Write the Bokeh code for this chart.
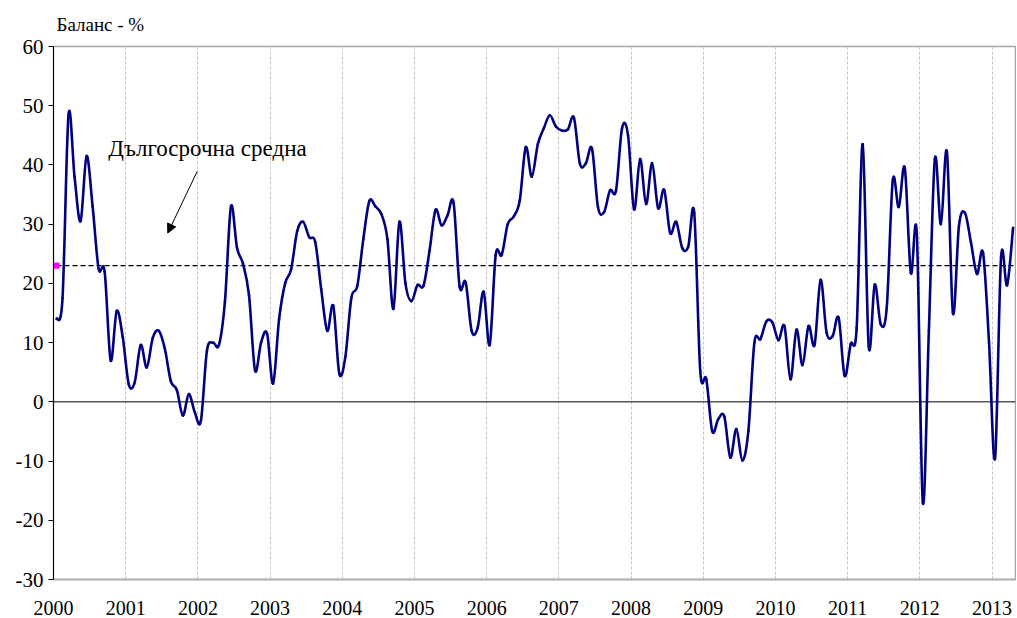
from bokeh.plotting import figure
from bokeh.models import Range1d, FixedTicker, Span, Label, Arrow, NormalHead, ColumnDataSource, Title
from bokeh.embed import file_html
from bokeh.resources import INLINE

# ---------------- data ----------------
start_year = 2000
years = list(range(2000, 2014))
year_labels = [str(y) for y in years]
y_ticks = [-30, -20, -10, 0, 10, 20, 30, 40, 50, 60]
y_tick_labels = ["-30", "-20", "-10", "0", "10", "20", "30", "40", "50", "60"]

v2000 = [14.0, 17.5, 48.5, 38.0, 30.5, 41.5, 33.0, 22.5, 22.0, 7.0, 15.3, 11.0]
v2001 = [3.0, 3.3, 9.6, 5.8, 10.8, 12.0, 9.0, 3.5, 2.0, -2.3, 1.3, -1.8]
v2002 = [-3.2, 8.6, 10.0, 9.6, 17.0, 33.0, 26.0, 23.3, 18.0, 5.3, 10.0, 11.5]
v2003 = [3.1, 14.0, 20.0, 22.4, 28.8, 30.4, 27.8, 27.0, 19.0, 12.0, 16.2, 4.8]
v2004 = [7.5, 17.5, 19.6, 27.5, 33.9, 33.0, 31.7, 27.5, 15.7, 30.4, 20.0, 17.0]
v2005 = [19.7, 19.6, 25.5, 32.4, 29.8, 31.5, 33.6, 19.5, 20.2, 12.0, 12.5, 18.6]
v2006 = [9.6, 24.8, 24.8, 30.0, 31.3, 34.0, 43.0, 38.0, 43.5, 46.2, 48.4, 46.5]
v2007 = [45.8, 46.0, 48.0, 40.2, 40.3, 42.8, 32.9, 32.0, 35.7, 35.7, 46.2, 45.0]
v2008 = [32.5, 41.0, 33.4, 40.3, 32.7, 35.8, 28.5, 30.4, 26.0, 26.2, 31.9, 5.2]
v2009 = [3.8, -5.0, -2.9, -2.5, -9.4, -4.6, -9.9, -4.9, 10.0, 10.6, 13.6, 13.4]
v2010 = [10.4, 12.8, 3.8, 12.2, 6.2, 12.8, 9.6, 20.6, 11.7, 11.1, 14.2, 4.4]
v2011 = [9.7, 12.5, 43.5, 9.4, 19.8, 13.1, 15.9, 37.4, 32.9, 39.5, 21.8, 28.3]
v2012 = [-17.0, 12.0, 41.0, 30.0, 42.2, 15.0, 29.7, 31.9, 26.9, 21.6, 25.2, 10.0]
v2013 = [-9.5, 24.4, 19.7, 29.4]

long_term_avg = 23.0

values = v2000 + v2001 + v2002 + v2003 + v2004 + v2005 + v2006 + v2007 + \
    v2008 + v2009 + v2010 + v2011 + v2012 + v2013
months = [start_year + (i + 0.5) / 12.0 for i in range(len(values))]

# smooth (Catmull-Rom style) bezier segments through the monthly points
n = len(values)
x0, y0, x1, y1, cx0, cy0, cx1, cy1 = [], [], [], [], [], [], [], []
for i in range(n - 1):
    pa = i - 1 if i > 0 else i
    pd = i + 2 if i + 2 < n else i + 1
    x0.append(months[i]); y0.append(values[i])
    x1.append(months[i + 1]); y1.append(values[i + 1])
    cx0.append(months[i] + (months[i + 1] - months[pa]) / 6.0)
    cy0.append(values[i] + (values[i + 1] - values[pa]) / 6.0)
    cx1.append(months[i + 1] - (months[pd] - months[i]) / 6.0)
    cy1.append(values[i + 1] - (values[pd] - values[i]) / 6.0)
seg = ColumnDataSource(dict(x0=x0, y0=y0, x1=x1, y1=y1, cx0=cx0, cy0=cy0, cx1=cx1, cy1=cy1))

# ---------------- figure ----------------
X_END = 2013.325
SERIF = "'Liberation Serif', 'Times New Roman', serif"

p = figure(width=1016, height=617, x_range=Range1d(2000, X_END), y_range=Range1d(-30, 60),
           output_backend="svg", toolbar_location=None,
           min_border_left=53, min_border_right=1, min_border_top=45, min_border_bottom=38)
p.background_fill_color = "white"
p.border_fill_color = "white"
p.outline_line_color = "#a6a6a6"
p.outline_line_width = 1.5

p.add_layout(Title(text="Баланс - %", align="left", offset=3, standoff=23,
                   text_font=SERIF, text_font_size="19px", text_font_style="normal",
                   text_color="black"), "above")

# grids
p.ygrid.grid_line_color = None
p.xgrid.ticker = FixedTicker(ticks=years)
p.xgrid.grid_line_color = "#c4c4c4"
p.xgrid.grid_line_dash = "3 2"
p.xgrid.grid_line_width = 1

# x axis
p.xaxis.ticker = FixedTicker(ticks=years)
p.xaxis.major_label_overrides = {y: lab for y, lab in zip(years, year_labels)}
p.xaxis.axis_line_color = "#b5b5b5"
p.xaxis.axis_line_width = 2
p.xaxis.major_tick_line_color = None
p.xaxis.minor_tick_line_color = None
p.xaxis.major_label_standoff = 15
p.xaxis.major_label_text_font = SERIF
p.xaxis.major_label_text_font_size = "20px"
p.xaxis.major_label_text_color = "black"

# y axis
p.yaxis.ticker = FixedTicker(ticks=y_ticks)
p.yaxis.major_label_overrides = {t: lab for t, lab in zip(y_ticks, y_tick_labels)}
p.yaxis.axis_line_color = "black"
p.yaxis.axis_line_width = 1
p.yaxis.major_tick_line_color = "black"
p.yaxis.major_tick_out = 5
p.yaxis.major_tick_in = 0
p.yaxis.minor_tick_line_color = None
p.yaxis.major_label_standoff = 5
p.yaxis.major_label_text_font = SERIF
p.yaxis.major_label_text_font_size = "21px"
p.yaxis.major_label_text_color = "black"

# zero line
p.add_layout(Span(location=0, dimension="width", line_color="black", line_width=1, level="underlay"))

# long-term average
p.line([months[0], X_END], [long_term_avg, long_term_avg], line_color="black",
       line_width=1.1, line_dash="5 3")
p.scatter([months[0]], [long_term_avg], marker="square", size=5,
          fill_color="#ff00ff", line_color="#ff00ff")

# series
p.bezier(x0="x0", y0="y0", x1="x1", y1="y1", cx0="cx0", cy0="cy0", cx1="cx1", cy1="cy1",
         source=seg, line_color="#000080", line_width=2.6, line_cap="round")

# annotations
p.add_layout(Label(x=2000.76, y=42.8, text="Дългосрочна средна", text_font=SERIF,
                   text_font_size="23px", text_color="black", text_baseline="alphabetic"))
p.add_layout(Arrow(end=NormalHead(size=9, fill_color="black", line_color="black", line_width=1),
                   x_start=2001.99, y_start=38.9, x_end=2001.583, y_end=28.5,
                   line_color="black", line_width=1))

open("out.html", "w").write(file_html(p, INLINE))
